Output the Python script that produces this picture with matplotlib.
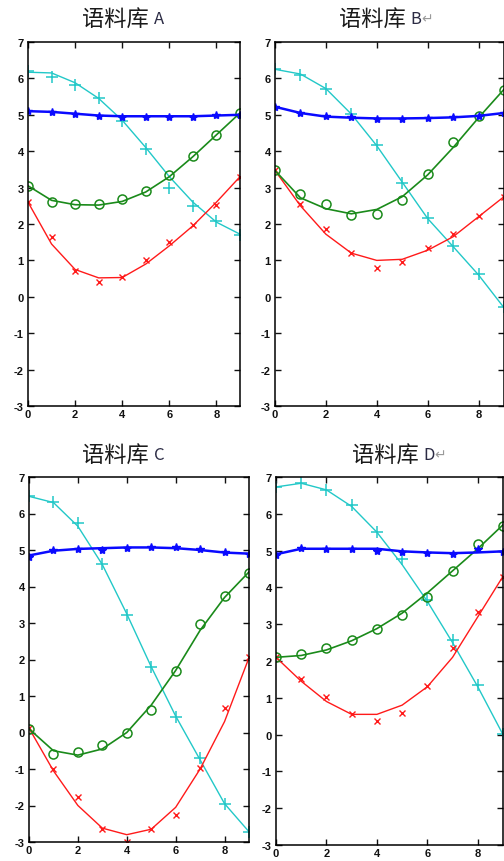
import matplotlib
matplotlib.use('Agg')
import matplotlib.pyplot as plt

plt.rcParams['font.family'] = ['Liberation Sans', 'DejaVu Sans']
plt.rcParams['axes.unicode_minus'] = False

x = [0, 1, 2, 3, 4, 5, 6, 7, 8, 9]
y_ticks = [-3, -2, -1, 0, 1, 2, 3, 4, 5, 6, 7]
x_ticks = [0, 2, 4, 6, 8]

# panel A
cyan_pts_a = [6.20, 6.05, 5.82, 5.47, 4.83, 4.06, 2.98, 2.50, 2.08, 1.70]
cyan_fit_a = [6.17, 6.15, 5.88, 5.45, 4.85, 4.10, 3.30, 2.60, 2.05, 1.72]
blue_pts_a = [5.10, 5.08, 5.03, 4.98, 4.95, 4.95, 4.95, 4.95, 5.00, 5.00]
blue_fit_a = [5.10, 5.08, 5.03, 4.98, 4.96, 4.96, 4.96, 4.96, 4.98, 5.00]
green_pts_a = [3.05, 2.61, 2.55, 2.55, 2.69, 2.92, 3.35, 3.86, 4.44, 5.06]
green_fit_a = [3.05, 2.65, 2.53, 2.52, 2.62, 2.88, 3.30, 3.85, 4.45, 5.05]
red_pts_a = [2.61, 1.64, 0.72, 0.40, 0.54, 1.00, 1.50, 1.96, 2.52, 3.28]
red_fit_a = [2.60, 1.45, 0.75, 0.52, 0.53, 0.90, 1.40, 1.95, 2.60, 3.30]

# panel B
cyan_pts_b = [6.26, 6.10, 5.70, 5.02, 4.16, 3.13, 2.16, 1.39, 0.63, -0.29]
cyan_fit_b = [6.25, 6.12, 5.72, 5.02, 4.15, 3.15, 2.15, 1.38, 0.60, -0.30]
blue_pts_b = [5.22, 5.05, 4.97, 4.93, 4.88, 4.88, 4.90, 4.93, 4.97, 5.05]
blue_fit_b = [5.22, 5.05, 4.95, 4.92, 4.90, 4.90, 4.91, 4.93, 4.97, 5.05]
green_pts_b = [3.48, 2.83, 2.56, 2.26, 2.28, 2.65, 3.38, 4.25, 4.98, 5.69]
green_fit_b = [3.47, 2.72, 2.42, 2.28, 2.40, 2.75, 3.35, 4.10, 4.92, 5.70]
red_pts_b = [3.48, 2.56, 1.87, 1.21, 0.79, 0.96, 1.34, 1.73, 2.22, 2.75]
red_fit_b = [3.47, 2.50, 1.72, 1.20, 1.00, 1.03, 1.28, 1.65, 2.20, 2.75]

# panel C
cyan_pts_c = [6.48, 6.32, 5.73, 4.61, 3.22, 1.80, 0.43, -0.69, -1.97, -2.72]
cyan_fit_c = [6.47, 6.30, 5.65, 4.60, 3.25, 1.80, 0.45, -0.75, -1.95, -2.72]
blue_pts_c = [4.81, 5.00, 5.03, 5.00, 5.05, 5.07, 5.07, 5.03, 4.95, 4.90]
blue_fit_c = [4.85, 4.98, 5.03, 5.05, 5.07, 5.07, 5.05, 5.00, 4.93, 4.90]
green_pts_c = [0.10, -0.58, -0.53, -0.33, 0.00, 0.62, 1.69, 2.96, 3.74, 4.38]
green_fit_c = [0.10, -0.50, -0.62, -0.45, 0.00, 0.75, 1.70, 2.80, 3.70, 4.40]
red_pts_c = [0.12, -1.00, -1.78, -2.65, -3.00, -2.65, -2.27, -0.98, 0.68, 2.07]
red_fit_c = [0.12, -1.05, -2.00, -2.62, -2.80, -2.65, -2.05, -1.00, 0.30, 2.05]

# panel D
cyan_pts_d = [6.74, 6.85, 6.65, 6.23, 5.51, 4.76, 3.66, 2.56, 1.35, 0.01]
cyan_fit_d = [6.73, 6.83, 6.65, 6.20, 5.50, 4.62, 3.62, 2.50, 1.30, 0.00]
blue_pts_d = [4.87, 5.08, 5.05, 5.03, 5.00, 4.97, 4.93, 4.92, 5.03, 4.95]
blue_fit_d = [4.90, 5.05, 5.05, 5.05, 5.05, 4.98, 4.95, 4.93, 4.95, 4.98]
green_pts_d = [2.10, 2.18, 2.34, 2.57, 2.86, 3.24, 3.75, 4.45, 5.17, 5.67]
green_fit_d = [2.10, 2.15, 2.30, 2.55, 2.88, 3.30, 3.85, 4.45, 5.05, 5.70]
red_pts_d = [2.10, 1.51, 1.01, 0.57, 0.36, 0.60, 1.31, 2.34, 3.34, 4.29]
red_fit_d = [2.10, 1.45, 0.90, 0.55, 0.55, 0.80, 1.30, 2.10, 3.20, 4.30]

W, H = 504, 862
fig = plt.figure(figsize=(W / 100, H / 100), dpi=100)


def px_axes(left, right, top, bottom):
    return fig.add_axes([left / W, 1 - bottom / H, (right - left) / W, (bottom - top) / H])


def plot_panel(ax, cyan_p, cyan_f, blue_p, blue_f, green_p, green_f, red_p, red_f):
    ax.plot(x, cyan_f, color='#22c8c8', lw=1.0)
    ax.plot(x, cyan_p, ls='none', marker='+', ms=8, mew=1.1, color='#22c8c8')
    ax.plot(x, red_f, color='#ff1a1a', lw=1.0)
    ax.plot(x, red_p, ls='none', marker='x', ms=4, mew=1.0, color='#ff1a1a')
    ax.plot(x, green_f, color='#1a8a1a', lw=1.2)
    ax.plot(x, green_p, ls='none', marker='o', ms=6.5, mew=1.1, mfc='none', color='#1a8a1a')
    ax.plot(x, blue_f, color='#0a0aff', lw=1.8)
    ax.plot(x, blue_p, ls='none', marker='*', ms=6, color='#0a0aff')
    ax.set_xlim(0, 9)
    ax.set_ylim(-3, 7)
    ax.set_xticks(x_ticks)
    ax.set_yticks(y_ticks)
    ax.tick_params(direction='in', top=True, right=True, length=4, width=1,
                   labelsize=8, colors='#111111')
    ax.tick_params(axis='x', pad=2)
    ax.tick_params(axis='y', pad=3)
    for s in ax.spines.values():
        s.set_linewidth(1.1)
    for lab in ax.get_xticklabels() + ax.get_yticklabels():
        lab.set_fontweight('bold')


def draw_title(cx, cy, letter, arrow):
    pieces = [('语料库 ', 16, '#1a1a1a')]
    pieces.append((letter, 12, '#2b2b44'))
    if arrow:
        pieces.append(('↵', 10, '#9a9a9a'))
    texts = []
    for s, size, col in pieces:
        t = fig.text(0, 1 - cy / H, s, fontsize=size, color=col, va='center', ha='left',
                     family=['Noto Sans CJK SC', 'DejaVu Sans'])
        texts.append(t)
    r = fig.canvas.get_renderer()
    widths = [t.get_window_extent(r).width for t in texts]
    pos = cx - sum(widths) / 2
    for t, w in zip(texts, widths):
        t.set_x(pos / W)
        pos += w


ax_a = px_axes(28, 240, 43, 407)
ax_b = px_axes(275, 504, 43, 407)
ax_c = px_axes(29, 249, 478, 843)
ax_d = px_axes(276, 503, 478, 846)

plot_panel(ax_a, cyan_pts_a, cyan_fit_a, blue_pts_a, blue_fit_a, green_pts_a, green_fit_a, red_pts_a, red_fit_a)
plot_panel(ax_b, cyan_pts_b, cyan_fit_b, blue_pts_b, blue_fit_b, green_pts_b, green_fit_b, red_pts_b, red_fit_b)
plot_panel(ax_c, cyan_pts_c, cyan_fit_c, blue_pts_c, blue_fit_c, green_pts_c, green_fit_c, red_pts_c, red_fit_c)
plot_panel(ax_d, cyan_pts_d, cyan_fit_d, blue_pts_d, blue_fit_d, green_pts_d, green_fit_d, red_pts_d, red_fit_d)

draw_title(123, 19, 'A', False)
draw_title(386, 19, 'B', True)
draw_title(123, 455, 'C', False)
draw_title(399, 455, 'D', True)

fig.savefig('out.png', dpi=100)
